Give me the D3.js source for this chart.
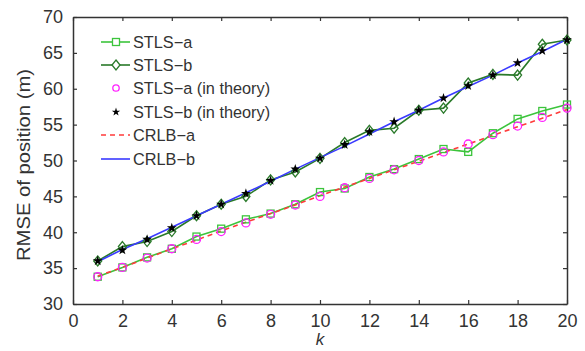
<!DOCTYPE html>
<html><head><meta charset="utf-8">
<script src="https://cdn.jsdelivr.net/npm/d3@7"></script>
<style>body{margin:0;background:#fff}svg text{font-family:"Liberation Sans",Arial,sans-serif;fill:#333}</style>
</head><body><svg id="c" width="585" height="351"></svg>
<script>
const k = d3.range(1, 21);
const stlsA = [33.8,35.1,36.5,37.7,39.4,40.5,41.8,42.6,43.9,45.6,46.1,47.7,48.8,50.2,51.6,51.2,53.8,55.8,56.9,57.8];
const stlsB = [36.0,38.0,38.7,40.1,42.3,43.9,45.0,47.3,48.4,50.3,52.5,54.2,54.5,57.0,57.3,60.8,62.0,61.9,66.2,66.8];
const theoryA = [33.8,35.1,36.4,37.7,39.0,40.1,41.3,42.5,43.8,45.0,46.2,47.5,48.7,50.0,51.2,52.3,53.6,54.8,56.0,57.3];
const theoryB = [36.0,37.5,39.0,40.6,42.3,43.9,45.4,47.2,48.8,50.3,52.2,54.0,55.4,57.0,58.7,60.4,61.9,63.6,65.3,66.8];
const crlbA = [33.9,35.1,36.4,37.7,38.9,40.2,41.4,42.6,43.8,45.1,46.3,47.5,48.7,49.9,51.1,52.3,53.5,54.7,55.9,57.1];
const crlbB = [35.9,37.6,39.1,40.7,42.3,43.9,45.5,47.1,48.8,50.4,52.0,53.7,55.4,57.0,58.7,60.3,61.9,63.6,65.2,66.9];
const xTicks = [0,2,4,6,8,10,12,14,16,18,20];
const yTicks = [30,35,40,45,50,55,60,65,70];
const legendLabels = ["STLS\u2212a","STLS\u2212b","STLS\u2212a (in theory)","STLS\u2212b (in theory)","CRLB\u2212a","CRLB\u2212b"];

const svg = d3.select("#c");
const L=73, R=567, T=17, B=304;
const x = d3.scaleLinear().domain([0,20]).range([L,R]);
const y = d3.scaleLinear().domain([30,70]).range([B,T]);

const axCol = "#333";
function styleAxis(g){
  g.selectAll("path").attr("stroke",axCol).attr("stroke-width",1.5);
  g.selectAll("line").attr("stroke",axCol).attr("stroke-width",1.2);
  g.selectAll("text").attr("fill","#333").style("font-size","18px").style("font-family","'Liberation Sans',Arial,sans-serif");
}
svg.append("g").attr("transform",`translate(0,${B})`)
  .call(d3.axisBottom(x).tickValues(xTicks).tickSizeInner(-4).tickSizeOuter(0).tickPadding(10).tickFormat(d3.format("d"))).call(styleAxis);
svg.append("g").attr("transform",`translate(0,${T})`)
  .call(d3.axisTop(x).tickValues(xTicks).tickSizeInner(-4).tickSizeOuter(0).tickFormat("")).call(styleAxis);
svg.append("g").attr("transform",`translate(${L},0)`)
  .call(d3.axisLeft(y).tickValues(yTicks).tickSizeInner(-4).tickSizeOuter(0).tickPadding(10)).call(styleAxis);
svg.append("g").attr("transform",`translate(${R},0)`)
  .call(d3.axisRight(y).tickValues(yTicks).tickSizeInner(-4).tickSizeOuter(0).tickFormat("")).call(styleAxis);

svg.append("text").attr("transform",`translate(30,165) rotate(-90)`).attr("text-anchor","middle")
  .attr("textLength",192).attr("lengthAdjust","spacingAndGlyphs")
  .style("font-size","18px").text("RMSE of position (m)");
svg.append("text").attr("x",(L+R)/2).attr("y",345).attr("text-anchor","middle")
  .style("font-size","17px").style("font-style","italic").text("k");

const line = d3.line().x((d,i)=>x(k[i])).y(d=>y(d));
const cA="#3cc43c", cB="#2a7a2a", cTA="#ff22ff", cTB="#000", cCA="#ff3b3b", cCB="#3a3aff";

svg.append("path").datum(stlsA).attr("d",line).attr("fill","none").attr("stroke",cA).attr("stroke-width",1.6);
svg.append("path").datum(stlsB).attr("d",line).attr("fill","none").attr("stroke",cB).attr("stroke-width",1.6);
svg.append("path").datum(crlbA).attr("d",line).attr("fill","none").attr("stroke",cCA).attr("stroke-width",1.6).attr("stroke-dasharray","5,4");
svg.append("path").datum(crlbB).attr("d",line).attr("fill","none").attr("stroke",cCB).attr("stroke-width",1.6);

function squares(g,data){
  g.selectAll(null).data(data).enter().append("rect")
   .attr("x",(d,i)=>x(k[i])-3.5).attr("y",d=>y(d)-3.5).attr("width",7).attr("height",7)
   .attr("fill","none").attr("stroke",cA).attr("stroke-width",1.3);
}
function diamonds(g,data){
  g.selectAll(null).data(data).enter().append("path")
   .attr("d",(d,i)=>{const cx=x(k[i]),cy=y(d);return `M${cx},${cy-5}L${cx+4},${cy}L${cx},${cy+5}L${cx-4},${cy}Z`;})
   .attr("fill","none").attr("stroke",cB).attr("stroke-width",1.3);
}
function circles(g,data){
  g.selectAll(null).data(data).enter().append("circle")
   .attr("cx",(d,i)=>x(k[i])).attr("cy",d=>y(d)).attr("r",4)
   .attr("fill","none").attr("stroke",cTA).attr("stroke-width",1.3);
}
const star = d3.symbol().type(d3.symbolStar).size(30);
function stars(g,data){
  g.selectAll(null).data(data).enter().append("path")
   .attr("transform",(d,i)=>`translate(${x(k[i])},${y(d)})`).attr("d",star).attr("fill",cTB);
}
squares(svg.append("g"),stlsA);
diamonds(svg.append("g"),stlsB);
circles(svg.append("g"),theoryA);
stars(svg.append("g"),theoryB);

// legend
const ly = [42,65,88,112,135,159];
const lg = svg.append("g");
const lx0=101, lx1=130, lxm=116, tx=133;
legendLabels.forEach((lab,i)=>{
  lg.append("text").attr("x",tx).attr("y",ly[i]).attr("dy","0.35em").style("font-size","16.3px").text(lab);
});
lg.append("line").attr("x1",lx0).attr("x2",lx1).attr("y1",ly[0]).attr("y2",ly[0]).attr("stroke",cA).attr("stroke-width",1.6);
lg.append("rect").attr("x",lxm-3.5).attr("y",ly[0]-3.5).attr("width",7).attr("height",7).attr("fill","#fff").attr("stroke",cA).attr("stroke-width",1.3);
lg.append("line").attr("x1",lx0).attr("x2",lx1).attr("y1",ly[1]).attr("y2",ly[1]).attr("stroke",cB).attr("stroke-width",1.6);
lg.append("path").attr("d",`M${lxm},${ly[1]-5}L${lxm+4},${ly[1]}L${lxm},${ly[1]+5}L${lxm-4},${ly[1]}Z`).attr("fill","#fff").attr("stroke",cB).attr("stroke-width",1.3);
lg.append("circle").attr("cx",lxm).attr("cy",ly[2]).attr("r",3.2).attr("fill","none").attr("stroke",cTA).attr("stroke-width",1.3);
lg.append("path").attr("transform",`translate(${lxm},${ly[3]})`).attr("d",d3.symbol().type(d3.symbolStar).size(22)).attr("fill",cTB);
lg.append("line").attr("x1",lx0).attr("x2",lx1).attr("y1",ly[4]).attr("y2",ly[4]).attr("stroke",cCA).attr("stroke-width",1.6).attr("stroke-dasharray","5,4");
lg.append("line").attr("x1",lx0).attr("x2",lx1).attr("y1",ly[5]).attr("y2",ly[5]).attr("stroke",cCB).attr("stroke-width",1.6);
</script></body></html>
